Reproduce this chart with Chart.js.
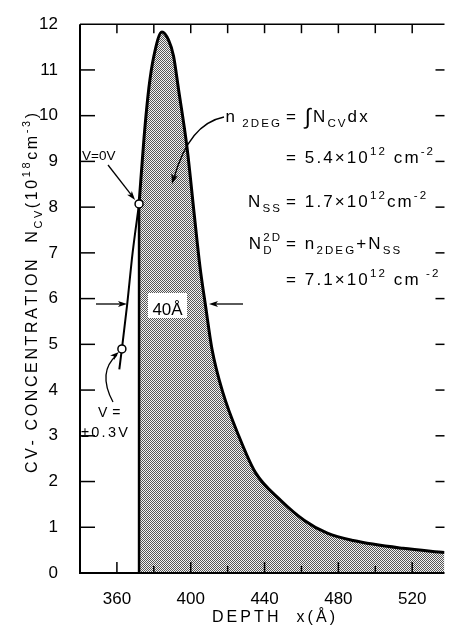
<!DOCTYPE html>
<html><head><meta charset="utf-8">
<script src="https://cdn.jsdelivr.net/npm/chart.js@4"></script>
<style>html,body{margin:0;padding:0;background:#fff}canvas{display:block}</style>
</head><body>
<canvas id="c" width="450" height="626"></canvas>
<script>
// ---- data (depth in Å, N_CV in 1e18 cm^-3) ----
const xTickLabels = [360, 400, 440, 480, 520];
const xMinorTicks = [360, 380, 400, 420, 440, 460, 480, 500, 520];
const yTickLabels = [0,1,2,3,4,5,6,7,8,9,10,11,12];
const profileX = [372, 374.7, 377.3, 380, 384.4, 388, 390.7, 393.3, 398, 402, 405, 408, 411.5, 417.3, 426, 435, 449, 461.6, 474, 488, 515, 537.5];
const profileY = [8.07, 9.52, 10.6, 11.3, 11.83, 11.65, 11.3, 10.6, 9.3, 7.8, 6.7, 5.85, 4.9, 3.96, 3.0, 2.2, 1.58, 1.15, 0.87, 0.71, 0.54, 0.45];
const leftX = [361.3, 362.7, 365.5, 368.5, 372];
const leftY = [4.45, 4.9, 5.85, 7.0, 8.07];
const edgeX = [372, 372];
const edgeY = [0, 8.07];
const markerX = [372, 362.7];
const markerY = [8.07, 4.9];

const pts = (xs, ys) => xs.map((x, i) => ({x, y: ys[i]}));
const FONT = "'Liberation Sans', Arial, sans-serif";

const canvas = document.getElementById('c');
const ctx0 = canvas.getContext('2d');
function makePattern(){
  const p = document.createElement('canvas'); p.width = 2; p.height = 2;
  const g = p.getContext('2d');
  g.fillStyle = '#f2f2f2'; g.fillRect(0,0,2,2);
  g.fillStyle = '#555555'; g.fillRect(0,0,1,1); g.fillRect(1,1,1,1);
  return ctx0.createPattern(p, 'repeat');
}
const stipple = makePattern();

// ---- rich text helpers ----
function fs(r, size){ return r.k === 'n' || !r.k ? size : (r.k === 'big' ? size*1.3 : size*0.68); }
function dyOf(r, size){ return r.k === 'sub' ? size*0.32 : r.k === 'sup' ? -size*0.45 : r.k === 'big' ? size*0.1 : 0; }
function richWidth(ctx, runs, size, sp){
  let w = 0;
  for (const r of runs){
    if (r.k === 'stack'){
      ctx.font = `${size*0.68}px ${FONT}`;
      const w1 = [...r.sup].reduce((s,c)=>s+ctx.measureText(c).width+sp,0);
      const w2 = [...r.sub].reduce((s,c)=>s+ctx.measureText(c).width+sp,0);
      w += Math.max(w1,w2); continue;
    }
    ctx.font = `${fs(r,size)}px ${FONT}`;
    for (const c of r.t) w += ctx.measureText(c).width + sp;
  }
  return w - sp;
}
function drawRich(ctx, runs, x, y, size, sp){
  let cx = x;
  for (const r of runs){
    if (r.k === 'stack'){
      ctx.font = `${size*0.68}px ${FONT}`;
      let a = cx, b = cx;
      for (const c of r.sup){ ctx.fillText(c, a, y - size*0.5); a += ctx.measureText(c).width + sp; }
      for (const c of r.sub){ ctx.fillText(c, b, y + size*0.32); b += ctx.measureText(c).width + sp; }
      cx = Math.max(a,b); continue;
    }
    ctx.font = `${fs(r,size)}px ${FONT}`;
    const dy = dyOf(r, size);
    for (const c of r.t){ ctx.fillText(c, cx, y + dy); cx += ctx.measureText(c).width + sp; }
  }
  return cx;
}
function arrowHead(ctx, x, y, ang, len, w){
  ctx.save(); ctx.translate(x, y); ctx.rotate(ang);
  ctx.beginPath(); ctx.moveTo(0,0); ctx.lineTo(-len,-w); ctx.lineTo(-len*0.75,0); ctx.lineTo(-len,w); ctx.closePath(); ctx.fill();
  ctx.restore();
}
function seg(ctx,x1,y1,x2,y2){ ctx.beginPath(); ctx.moveTo(x1,y1); ctx.lineTo(x2,y2); ctx.stroke(); }

const deco = {
  id: 'deco',
  afterDatasetsDraw(chart){
    const ctx = chart.ctx, a = chart.chartArea, xs = chart.scales.x, ys = chart.scales.y;
    ctx.save();
    ctx.strokeStyle = '#000'; ctx.fillStyle = '#000'; ctx.textBaseline = 'alphabetic'; ctx.textAlign = 'left';
    // axes frame
    ctx.lineWidth = 2;
    ctx.beginPath(); ctx.moveTo(a.left, a.top); ctx.lineTo(a.left, a.bottom); ctx.lineTo(a.right, a.bottom); ctx.stroke();
    ctx.lineWidth = 1.5; seg(ctx, a.left, a.top, a.right, a.top);
    // y ticks (inward, both sides)
    for (const v of yTickLabels){
      if (v === 0 || v === 12) continue;
      const py = ys.getPixelForValue(v);
      seg(ctx, a.left, py, a.left + 15, py);
      seg(ctx, a.right, py, a.right - 9, py);
    }
    // x ticks (inward, bottom and top)
    for (const v of xMinorTicks){
      const px = xs.getPixelForValue(v);
      const L = xTickLabels.includes(v) ? 11 : 7;
      seg(ctx, px, a.bottom, px, a.bottom - L);
      seg(ctx, px, a.top, px, a.top + 9);
    }

    // 40 Å width marker
    const yw = 304;
    ctx.lineWidth = 1.3;
    seg(ctx, 96, yw, 120, yw); arrowHead(ctx, 127, yw, 0, 9, 3);
    seg(ctx, 243, yw, 216, yw); arrowHead(ctx, 209, yw, Math.PI, 9, 3);
    ctx.fillStyle = '#fff'; ctx.fillRect(148, 293, 39, 25); ctx.fillStyle = '#000';
    ctx.font = `17px ${FONT}`; ctx.textAlign = 'center';
    ctx.fillText('40Å', 167.5, 315);
    ctx.textAlign = 'left';

    // V = 0V label + arrow
    drawRich(ctx, [{t:'V=0V'}], 82, 160, 13.5, 0);
    const c0x = xs.getPixelForValue(markerX[0]), c0y = ys.getPixelForValue(markerY[0]);
    ctx.lineWidth = 1.3;
    seg(ctx, 108, 165, c0x - 7, c0y - 8);
    arrowHead(ctx, c0x - 4, c0y - 4, Math.atan2(c0y - 165, c0x - 108), 9, 3);

    // V = ±0.3V label + curved arrow
    drawRich(ctx, [{t:'V ='}], 98, 417, 14, 0.5);
    drawRich(ctx, [{t:'±0.3V'}], 81, 437, 14.5, 2.3);
    const c1x = xs.getPixelForValue(markerX[1]), c1y = ys.getPixelForValue(markerY[1]);
    ctx.beginPath(); ctx.moveTo(113, 402); ctx.quadraticCurveTo(97, 372, c1x - 5, c1y + 6); ctx.stroke();
    arrowHead(ctx, c1x - 3, c1y + 3, Math.atan2(c1y + 6 - 372, c1x - 5 - 97), 9, 3);

    // n2DEG arrow
    ctx.beginPath(); ctx.moveTo(224, 117); ctx.quadraticCurveTo(189, 124, 174, 178); ctx.stroke();
    arrowHead(ctx, 172, 184, Math.atan2(184 - 124, 172 - 189), 10, 3.5);

    // equations block
    const S = 17, SP = 2.1, EQX = 286;
    const lines = [
      {y:122, L:[{t:'n'},{t:' 2DEG',k:'sub'}], R:[{t:'= '},{t:'∫',k:'big'},{t:'N'},{t:'CV',k:'sub'},{t:'dx'}]},
      {y:163, L:null, R:[{t:'= 5.4×10'},{t:'12',k:'sup'},{t:' cm'},{t:'-2',k:'sup'}]},
      {y:207, L:[{t:'N'},{t:'SS',k:'sub'}], R:[{t:'= 1.7×10'},{t:'12',k:'sup'},{t:'cm'},{t:'-2',k:'sup'}]},
      {y:249, L:[{t:'N'},{k:'stack',sup:'2D',sub:'D'}], R:[{t:'= n'},{t:'2DEG',k:'sub'},{t:'+N'},{t:'SS',k:'sub'}]},
      {y:285, L:null, R:[{t:'= 7.1×10'},{t:'12',k:'sup'},{t:' cm'},{t:' -2',k:'sup'}]}
    ];
    for (const ln of lines){
      if (ln.L){ const w = richWidth(ctx, ln.L, S, SP); drawRich(ctx, ln.L, EQX - 6 - w, ln.y, S, SP); }
      drawRich(ctx, ln.R, EQX, ln.y, S, SP);
    }

    // y-axis title (rotated)
    const yRuns = [{t:'CV- CONCENTRATION  N'},{t:'CV',k:'sub'},{t:'(10'},{t:'18',k:'sup'},{t:'cm'},{t:'-3',k:'sup'},{t:')'}];
    const yS = 16;
    const nChars = yRuns.reduce((s,r)=>s+(r.t?r.t.length:0),0);
    const w0 = richWidth(ctx, yRuns, yS, 0);
    const ySp = (360 - w0) / (nChars - 1);
    ctx.save(); ctx.translate(31, 293); ctx.rotate(-Math.PI/2);
    drawRich(ctx, yRuns, -180, 6, yS, ySp);
    ctx.restore();

    // x-axis title
    const xRuns = [{t:'DEPTH  x(Å)'}];
    const xS = 16;
    const xw0 = richWidth(ctx, xRuns, xS, 0);
    const xSp = (123 - xw0) / (xRuns[0].t.length - 1);
    drawRich(ctx, xRuns, 212, 622, xS, xSp);

    ctx.restore();
  }
};

new Chart(canvas, {
  type: 'line',
  data: {
    datasets: [
      {data: pts(markerX, markerY), showLine: false, pointRadius: 4, pointBackgroundColor: '#fff', pointBorderColor: '#000', pointBorderWidth: 1.5, order: 0},
      {data: pts(leftX, leftY), borderColor: '#000', borderWidth: 2, pointRadius: 0, fill: false, cubicInterpolationMode: 'monotone', order: 1},
      {data: pts(edgeX, edgeY), borderColor: '#000', borderWidth: 2.5, pointRadius: 0, fill: false, order: 2},
      {data: pts(profileX, profileY), borderColor: '#000', borderWidth: 3, pointRadius: 0, fill: 'origin', backgroundColor: stipple, cubicInterpolationMode: 'monotone', order: 3}
    ]
  },
  options: {
    responsive: false, animation: false,
    layout: {padding: {top: 19, right: 0, left: 0, bottom: 0}},
    plugins: {legend: {display: false}, tooltip: {enabled: false}},
    scales: {
      x: {
        type: 'linear', min: 340, max: 537.5,
        grid: {display: false}, border: {display: false},
        afterBuildTicks: s => { s.ticks = xTickLabels.map(v => ({value: v})); },
        afterFit: s => { s.height = 53; },
        ticks: {color: '#000', padding: 8, font: {family: FONT, size: 17}, maxRotation: 0, autoSkip: false}
      },
      y: {
        type: 'linear', min: 0, max: 12,
        grid: {display: false}, border: {display: false},
        afterBuildTicks: s => { s.ticks = yTickLabels.map(v => ({value: v})); },
        afterFit: s => { s.width = 80; },
        ticks: {color: '#000', padding: 14, font: {family: FONT, size: 17}, autoSkip: false}
      }
    }
  },
  plugins: [deco]
});
</script>
</body></html>
